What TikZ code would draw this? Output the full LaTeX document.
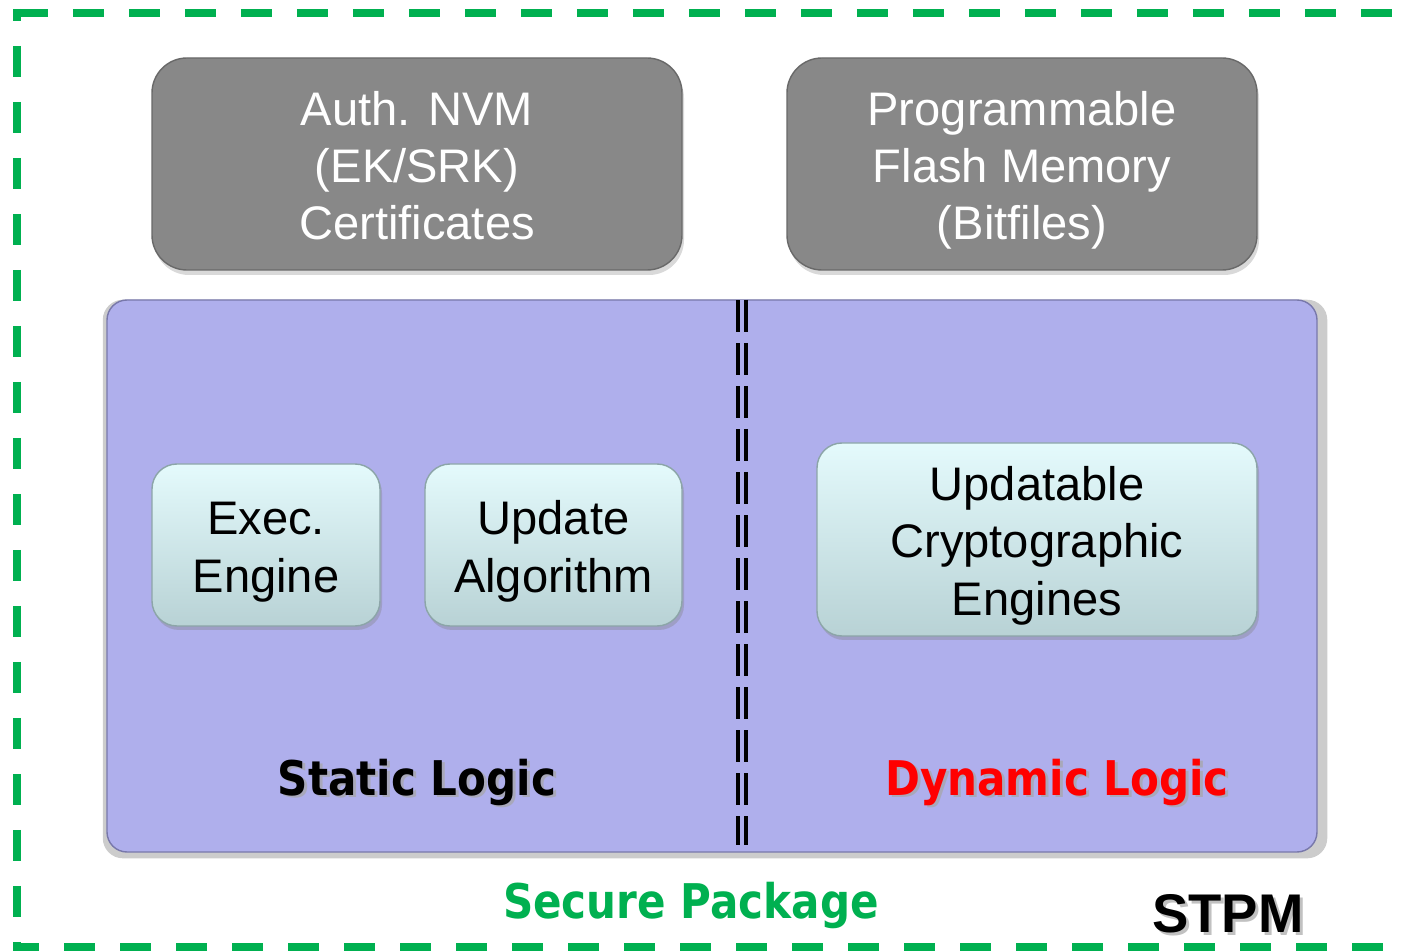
\documentclass[tikz,border=0pt]{standalone}
\usepackage{fontspec}
\setmainfont{Liberation Sans}
\newfontfamily\verdfont[FakeStretch=0.88]{DejaVu Sans}
\usetikzlibrary{shadows}
\definecolor{pkggreen}{RGB}{0,176,80}
\definecolor{logicfill}{RGB}{175,175,236}
\definecolor{logicdraw}{RGB}{120,120,170}
\definecolor{memfill}{RGB}{136,136,136}
\definecolor{memdraw}{RGB}{105,105,105}
\definecolor{engtop}{RGB}{228,250,252}
\definecolor{engbot}{RGB}{184,210,213}
\definecolor{engdraw}{RGB}{140,165,168}
\definecolor{dynred}{RGB}{255,0,0}
\newcommand\hstrut{\rule{0pt}{0.54cm}}

\begin{document}
\begin{tikzpicture}[mem/.style={draw=memdraw,fill=memfill,rounded corners=0.35cm,text=white,align=center,font=\fontsize{13.4}{16.3}\selectfont,drop shadow={opacity=0.3,shadow xshift=0.02cm,shadow yshift=-0.05cm}},
eng/.style={draw=engdraw,top color=engtop,bottom color=engbot,rounded corners=0.25cm,align=center,inner ysep=0pt,font=\fontsize{13.4}{16.3}\selectfont,drop shadow={opacity=0.35,shadow xshift=0.02cm,shadow yshift=-0.04cm}},
tag/.style={font=\verdfont\bfseries\fontsize{13.6}{16}\selectfont},
tagsh/.style={tag,text=black!35,opacity=0.7},
pkgline/.style={pkggreen,line width=2.2pt,dash pattern=on 0.31cm off 0.25cm}]
\useasboundingbox (0,0) rectangle (14.02,9.52);
% secure package outline (right side lies outside)
\draw[pkgline] (0.17,9.39) -- (14.2,9.39);
\draw[pkgline,dash phase=0.19cm] (0.17,9.43) -- (0.17,0.01);
\draw[pkgline,dash phase=0.05cm] (0.13,0.05) -- (14.2,0.05);
\node[mem,minimum width=5.3cm,minimum height=2.12cm] (nvm) at (4.17,7.88) {\hstrut Auth. NVM\\(EK/SRK)\\Certificates\strut};
\node[mem,minimum width=4.7cm,minimum height=2.12cm] (flash) at (10.22,7.88) {\hstrut Programmable\\Flash Memory\\(Bitfiles)\strut};
\node[draw=logicdraw,fill=logicfill,rounded corners=0.2cm,minimum width=12.1cm,minimum height=5.52cm,drop shadow={opacity=0.4,shadow xshift=0.03cm,shadow yshift=-0.03cm,shadow scale=1.012}] (logic) at (7.12,3.76) {};
\node[eng,minimum width=2.28cm,minimum height=1.62cm] (exec) at (2.66,4.07) {\hstrut Exec.\\Engine\strut};
\node[eng,minimum width=2.57cm,minimum height=1.62cm] (upd) at (5.535,4.07) {\hstrut Update\\Algorithm\strut};
\node[eng,minimum width=4.4cm,minimum height=1.93cm] (crypto) at (10.37,4.125) {\hstrut Updatable\\Cryptographic\\Engines\strut};
\coordinate (sepA) at (7.42,6.52); \coordinate (sepB) at (7.42,1.07);
\draw[line width=0.035cm,dash pattern=on 0.32cm off 0.11cm,double=logicfill,double distance=0.045cm] (sepA) -- (sepB);
\node[tagsh] (statsh) at (4.2,1.67) {Static Logic};
\node[tag] (stat) at (4.17,1.7) {Static Logic};
\node[tagsh] (dynsh) at (10.6,1.67) {Dynamic Logic};
\node[tag,text=dynred] (dyn) at (10.57,1.7) {Dynamic Logic};
\node[tag,text=pkggreen] (pkg) at (6.91,0.46) {Secure Package};
\node[font=\bfseries\fontsize{15.5}{18}\selectfont,text=black!35,opacity=0.7] (stpmsh) at (12.31,0.35) {STPM};
\node[font=\bfseries\fontsize{15.5}{18}\selectfont] (stpm) at (12.28,0.38) {STPM};
\end{tikzpicture}
\end{document}
